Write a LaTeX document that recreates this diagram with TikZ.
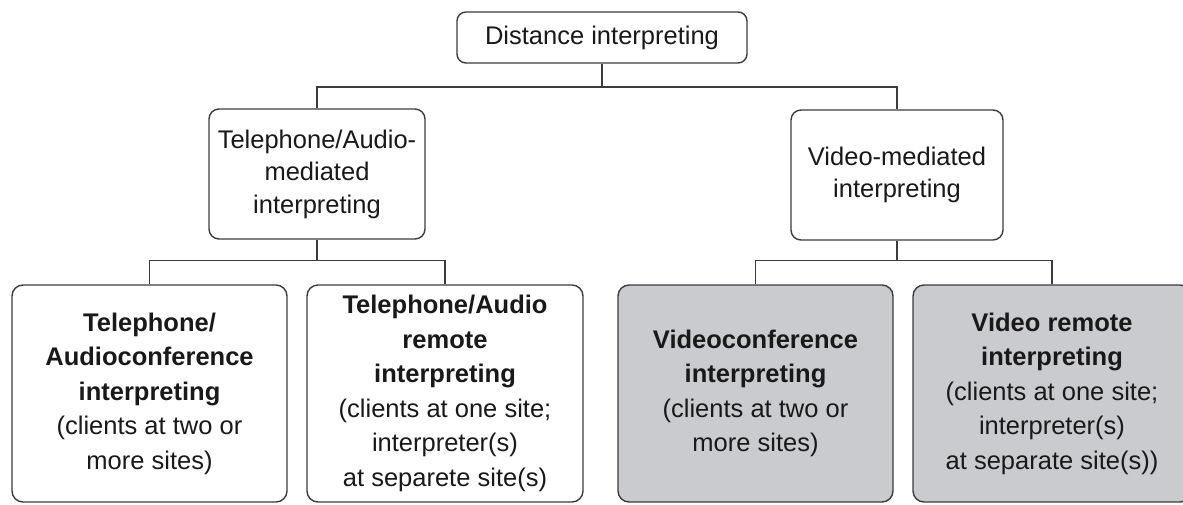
\documentclass[tikz,border=0pt]{standalone}
\usepackage{fontspec}
\setmainfont{Liberation Sans}
\definecolor{linec}{RGB}{60,60,60}
\definecolor{textc}{RGB}{25,25,25}
\definecolor{grayfill}{RGB}{201,203,206}
\begin{document}
\begin{tikzpicture}[x=1pt,y=-1pt,
  basebox/.style={draw=linec, line width=1.4pt, align=center, inner sep=0pt, text=textc},
  topbox/.style={basebox, rounded corners=9pt, font=\fontsize{25.5}{32}\selectfont},
  midbox/.style={basebox, rounded corners=10pt, font=\fontsize{25.5}{32.5}\selectfont},
  lowbox/.style={basebox, rounded corners=11pt, minimum width=275pt, minimum height=217pt, font=\fontsize{25.5}{34.5}\selectfont},
  shaded/.style={fill=grayfill},
  conn/.style={draw=linec, line width=1.4pt}]
\useasboundingbox (0,0) rectangle (1183,504);
\clip (0,0) rectangle (1183,504);
\fill[white] (0,0) rectangle (1183,504);

\node[topbox, minimum width=290pt, minimum height=51pt] (top) at (602,37.5) {Distance interpreting};

\node[midbox, minimum width=216pt, minimum height=130pt] (ml) at (317,174) {Telephone/Audio-\\mediated\\interpreting};
\node[midbox, minimum width=212pt, minimum height=130pt] (mr) at (897,175) {Video-mediated\\interpreting};

\node[lowbox] (b1) at (149.5,393.5) {\textbf{Telephone/}\\\textbf{Audioconference}\\\textbf{interpreting}\\(clients at two or\\more sites)};
\node[lowbox, minimum width=276pt] (b2) at (445,393.5) {\textbf{Telephone/Audio}\\\textbf{remote}\\\textbf{interpreting}\\(clients at one site;\\interpreter(s)\\at separete site(s)};
\node[lowbox, shaded] (b3) at (755.5,393.5) {\textbf{Videoconference}\\\textbf{interpreting}\\(clients at two or\\more sites)};
\node[lowbox, shaded, minimum width=278pt] (b4) at (1052,393.5) {\textbf{Video remote}\\\textbf{interpreting}\\(clients at one site;\\interpreter(s)\\at separate site(s))};

\coordinate (bus0) at (0,87);
\coordinate (bus1) at (0,260.5);

\draw[conn] (top.south) -- (top.south |- bus0);
\draw[conn] (ml.north) -- (ml.north |- bus0) -- (mr.north |- bus0) -- (mr.north);

\draw[conn] (ml.south) -- (ml.south |- bus1);
\draw[conn] (b1.north) -- (b1.north |- bus1) -- (b2.north |- bus1) -- (b2.north);

\draw[conn] (mr.south) -- (mr.south |- bus1);
\draw[conn] (b3.north) -- (b3.north |- bus1) -- (b4.north |- bus1) -- (b4.north);
\end{tikzpicture}
\end{document}
